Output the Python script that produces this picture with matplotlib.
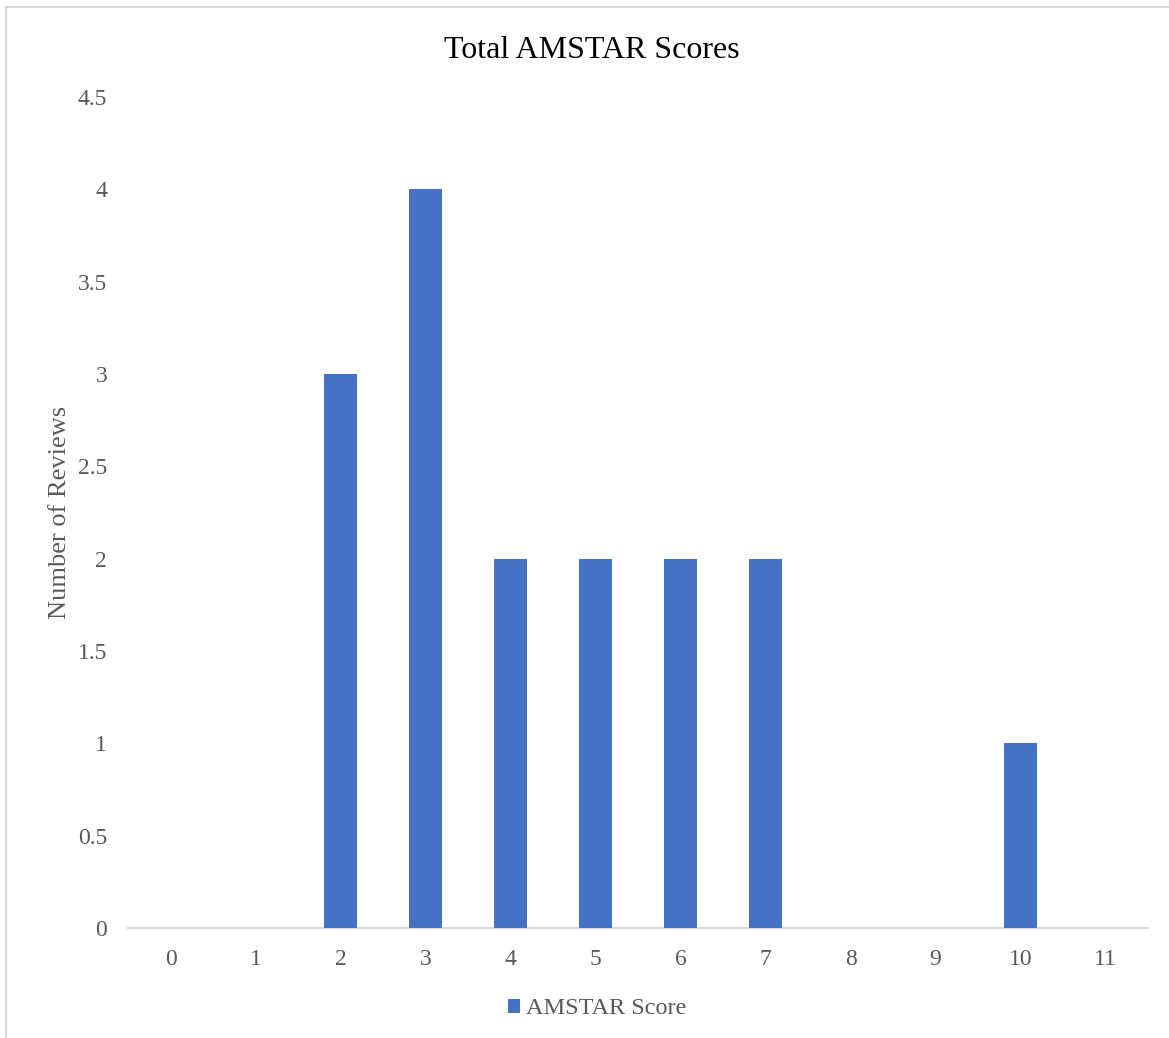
import matplotlib
matplotlib.use("Agg")
import matplotlib.pyplot as plt
from matplotlib.patches import Rectangle

# Distribution of total AMSTAR scores across reviews
scores = list(range(12))
counts = [0, 0, 3, 4, 2, 2, 2, 2, 0, 0, 1, 0]
y_ticks = [0, 0.5, 1, 1.5, 2, 2.5, 3, 3.5, 4, 4.5]
y_tick_labels = ["0", "0.5", "1", "1.5", "2", "2.5", "3", "3.5", "4", "4.5"]

plt.rcParams["font.family"] = ["Liberation Serif", "DejaVu Serif"]
text_gray = "#595959"
bar_blue = "#4472C4"
axis_gray = "#D9D9D9"

fig = plt.figure(figsize=(11.69, 10.38), dpi=100)
fig.patch.set_facecolor("white")

# chart frame
fig.add_artist(Rectangle((6 / 1169, -0.05), 1.2, 1 - 7 / 1038 + 0.05,
                         transform=fig.transFigure, fill=False,
                         edgecolor=axis_gray, linewidth=1.5))

ax = fig.add_axes([128 / 1169, 110 / 1038, (1148 - 128) / 1169, (928 - 97) / 1038])
ax.bar(scores, counts, width=0.39, color=bar_blue, label="AMSTAR Score", zorder=3)

ax.set_xlim(-0.5, 11.5)
ax.set_ylim(0, 4.5)
ax.set_xticks(scores)
ax.set_xticklabels([str(s) for s in scores])
ax.set_yticks(y_ticks)
ax.set_yticklabels(y_tick_labels)

for side in ["top", "right", "left"]:
    ax.spines[side].set_visible(False)
ax.spines["bottom"].set_color(axis_gray)
ax.spines["bottom"].set_linewidth(1.5)
ax.tick_params(axis="both", length=0, labelsize=17, colors=text_gray)
ax.tick_params(axis="x", pad=15)
ax.tick_params(axis="y", pad=15)

ax.set_ylabel("Number of Reviews", fontsize=19, color=text_gray, labelpad=5)
fig.text(592 / 1169, 1 - 58 / 1038, "Total AMSTAR Scores", fontsize=23,
         color="black", ha="center", va="baseline")

leg = fig.legend(loc="center", bbox_to_anchor=(597 / 1169, 1 - 1009 / 1038),
                 frameon=False, fontsize=17.5, handlelength=0.5, handleheight=0.5,
                 handletextpad=0.25)
for t in leg.get_texts():
    t.set_color(text_gray)

fig.savefig("out.png", dpi=100)
